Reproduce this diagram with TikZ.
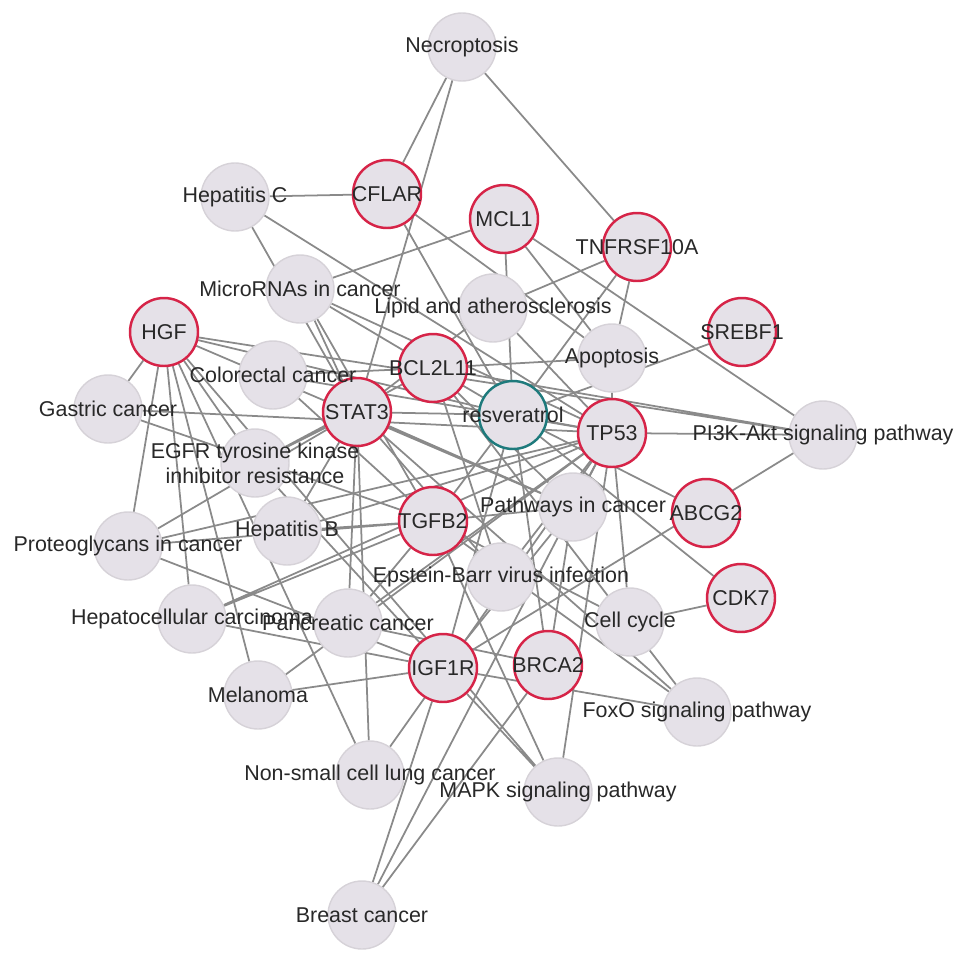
\documentclass[tikz,border=0pt]{standalone}
\usepackage{fontspec}
\setmainfont{Liberation Sans}
\usetikzlibrary{positioning}
\definecolor{genered}{RGB}{214,36,72}
\definecolor{drugteal}{RGB}{30,122,124}
\definecolor{nodefill}{RGB}{229,225,232}
\definecolor{nodeline}{RGB}{214,210,216}
\definecolor{edgegray}{RGB}{138,138,138}
\definecolor{txtgray}{RGB}{40,40,40}
\pgfdeclarelayer{edges}
\pgfsetlayers{edges,main}

\begin{document}
\begin{tikzpicture}[x=0.02cm, y=-0.02cm,
  pway/.style={circle, fill=nodefill, draw=nodeline, line width=0.8pt, minimum size=1.36cm, inner sep=0pt},
  gene/.style={pway, draw=genered, line width=1.4pt},
  drug/.style={pway, draw=drugteal, line width=1.4pt},
  lnk/.style={draw=edgegray, line width=1pt},
  lbl/.style={text=txtgray, font=\fontsize{12.2}{14.2}\selectfont, inner sep=0pt, align=center}]
  \useasboundingbox (0,0) rectangle (969,963);

  % pathways
  \node[pway] (necro) at (462,47) {};
  \node[pway] (hepc) at (235,197) {};
  \node[pway] (mirna) at (300,289) {};
  \node[pway] (lipid) at (493,308) {};
  \node[pway] (apop) at (612,358) {};
  \node[pway] (colo) at (273,375) {};
  \node[pway] (gastric) at (108,409) {};
  \node[pway] (pi3k) at (823,435) {};
  \node[pway] (egfr) at (255,463) {};
  \node[pway] (pathc) at (573,507) {};
  \node[pway] (hepb) at (287,531) {};
  \node[pway] (proteo) at (128,546) {};
  \node[pway] (ebv) at (501,577) {};
  \node[pway] (hcc) at (192,619) {};
  \node[pway] (panc) at (348,623) {};
  \node[pway] (cellc) at (630,622) {};
  \node[pway] (melan) at (258,695) {};
  \node[pway] (foxo) at (697,712) {};
  \node[pway] (nsclc) at (370,775) {};
  \node[pway] (mapk) at (558,792) {};
  \node[pway] (breast) at (362,915) {};

  % targets
  \node[gene] (cflar) at (387,194) {};
  \node[gene] (mcl1) at (504,219) {};
  \node[gene] (tnf) at (637,247) {};
  \node[gene] (srebf) at (742,332) {};
  \node[gene] (hgf) at (164,332) {};
  \node[gene] (bcl) at (433,368) {};
  \node[gene] (stat3) at (357,412) {};
  \node[gene] (tp53) at (612,433) {};
  \node[gene] (abcg2) at (706,513) {};
  \node[gene] (tgfb2) at (433,521) {};
  \node[gene] (cdk7) at (741,598) {};
  \node[gene] (brca2) at (548,665) {};
  \node[gene] (igf1r) at (443,668) {};

  % compound
  \node[drug] (resv) at (513,415) {};

  \begin{pgfonlayer}{edges}
    \draw[lnk] (resv) -- (cflar) (resv) -- (mcl1) (resv) -- (tnf) (resv) -- (srebf)
      (resv) -- (hgf) (resv) -- (bcl) (resv) -- (stat3) (resv) -- (tp53)
      (resv) -- (tgfb2) (resv) -- (abcg2) (resv) -- (cdk7) (resv) -- (igf1r) (resv) -- (brca2);
    \draw[lnk] (necro) -- (cflar) (necro) -- (stat3) (necro) -- (tnf);
    \draw[lnk] (hepc) -- (cflar) (hepc) -- (stat3) (hepc) -- (tp53);
    \draw[lnk] (mirna) -- (mcl1) (mirna) -- (stat3) (mirna) -- (bcl) (mirna) -- (tp53) (mirna) -- (tgfb2);
    \draw[lnk] (lipid) -- (tnf) (lipid) -- (stat3) (lipid) -- (tp53);
    \draw[lnk] (apop) -- (cflar) (apop) -- (mcl1) (apop) -- (tnf) (apop) -- (bcl) (apop) -- (tp53);
    \draw[lnk] (colo) -- (bcl) (colo) -- (tp53) (colo) -- (tgfb2);
    \draw[lnk] (gastric) -- (hgf) (gastric) -- (tp53) (gastric) -- (tgfb2);
    \draw[lnk] (egfr) -- (hgf) (egfr) -- (stat3) (egfr) -- (bcl) (egfr) -- (igf1r);
    \draw[lnk] (pi3k) -- (hgf) (pi3k) -- (mcl1) (pi3k) -- (bcl) (pi3k) -- (tp53) (pi3k) -- (igf1r);
    \draw[lnk] (pathc) -- (hgf) (pathc) -- (stat3) (pathc) -- (bcl) (pathc) -- (tp53)
      (pathc) -- (tgfb2) (pathc) -- (igf1r) (pathc) -- (brca2);
    \draw[lnk] (proteo) -- (hgf) (proteo) -- (stat3) (proteo) -- (tp53) (proteo) -- (tgfb2) (proteo) -- (igf1r);
    \draw[lnk] (hepb) -- (stat3) (hepb) -- (tp53) (hepb) -- (tgfb2);
    \draw[lnk] (ebv) -- (stat3) (ebv) -- (bcl) (ebv) -- (tp53);
    \draw[lnk] (hcc) -- (hgf) (hcc) -- (tp53) (hcc) -- (tgfb2) (hcc) -- (igf1r);
    \draw[lnk] (panc) -- (stat3) (panc) -- (tp53) (panc) -- (tgfb2) (panc) -- (brca2);
    \draw[lnk] (cellc) -- (tp53) (cellc) -- (tgfb2) (cellc) -- (cdk7);
    \draw[lnk] (melan) -- (hgf) (melan) -- (tp53) (melan) -- (igf1r);
    \draw[lnk] (foxo) -- (stat3) (foxo) -- (bcl) (foxo) -- (tgfb2) (foxo) -- (igf1r);
    \draw[lnk] (nsclc) -- (hgf) (nsclc) -- (stat3) (nsclc) -- (tp53);
    \draw[lnk] (mapk) -- (hgf) (mapk) -- (tp53) (mapk) -- (tgfb2) (mapk) -- (igf1r);
    \draw[lnk] (breast) -- (tp53) (breast) -- (brca2) (breast) -- (igf1r);
  \end{pgfonlayer}

  % labels on top
  \node[lbl] (necro-t) at (necro) {Necroptosis};
  \node[lbl] (hepc-t) at (hepc) {Hepatitis C};
  \node[lbl] (mirna-t) at (mirna) {MicroRNAs in cancer};
  \node[lbl] (lipid-t) at (lipid) {Lipid and atherosclerosis};
  \node[lbl] (apop-t) at (apop) {Apoptosis};
  \node[lbl] (colo-t) at (colo) {Colorectal cancer};
  \node[lbl] (gastric-t) at (gastric) {Gastric cancer};
  \node[lbl] (pi3k-t) at (pi3k) {PI3K-Akt signaling pathway};
  \node[lbl] (egfr-t) at (egfr) {EGFR tyrosine kinase\\inhibitor resistance};
  \node[lbl] (pathc-t) at (pathc) {Pathways in cancer};
  \node[lbl] (hepb-t) at (hepb) {Hepatitis B};
  \node[lbl] (proteo-t) at (proteo) {Proteoglycans in cancer};
  \node[lbl] (ebv-t) at (ebv) {Epstein-Barr virus infection};
  \node[lbl] (hcc-t) at (hcc) {Hepatocellular carcinoma};
  \node[lbl] (panc-t) at (panc) {Pancreatic cancer};
  \node[lbl] (cellc-t) at (cellc) {Cell cycle};
  \node[lbl] (melan-t) at (melan) {Melanoma};
  \node[lbl] (foxo-t) at (foxo) {FoxO signaling pathway};
  \node[lbl] (nsclc-t) at (nsclc) {Non-small cell lung cancer};
  \node[lbl] (mapk-t) at (mapk) {MAPK signaling pathway};
  \node[lbl] (breast-t) at (breast) {Breast cancer};
  \node[lbl] (cflar-t) at (cflar) {CFLAR};
  \node[lbl] (mcl1-t) at (mcl1) {MCL1};
  \node[lbl] (tnf-t) at (tnf) {TNFRSF10A};
  \node[lbl] (srebf-t) at (srebf) {SREBF1};
  \node[lbl] (hgf-t) at (hgf) {HGF};
  \node[lbl] (bcl-t) at (bcl) {BCL2L11};
  \node[lbl] (stat3-t) at (stat3) {STAT3};
  \node[lbl] (tp53-t) at (tp53) {TP53};
  \node[lbl] (abcg2-t) at (abcg2) {ABCG2};
  \node[lbl] (tgfb2-t) at (tgfb2) {TGFB2};
  \node[lbl] (cdk7-t) at (cdk7) {CDK7};
  \node[lbl] (brca2-t) at (brca2) {BRCA2};
  \node[lbl] (igf1r-t) at (igf1r) {IGF1R};
  \node[lbl] (resv-t) at (resv) {resveratrol};
\end{tikzpicture}
\end{document}
